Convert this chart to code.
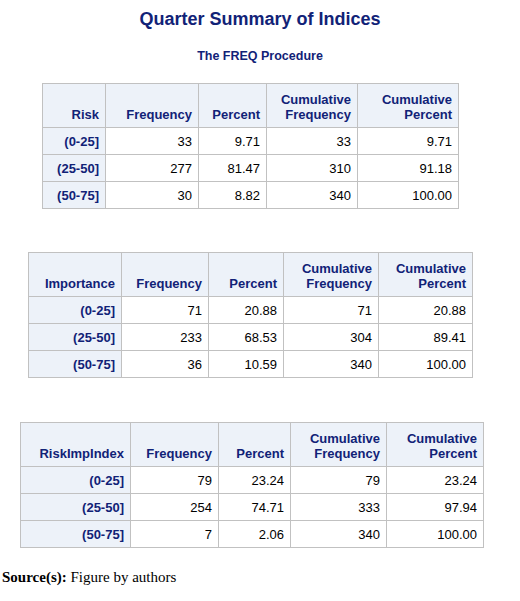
<!DOCTYPE html>
<html><head><meta charset="utf-8">
<script src="https://cdn.jsdelivr.net/npm/chart.js@4"></script>
<style>
body{margin:0;width:520px;height:601px;background:#fff;font-family:Arial,"Liberation Sans",sans-serif;position:relative;overflow:hidden}
.t{position:absolute;left:0;width:520px;text-align:center;color:#112277;font-weight:bold}
table{position:absolute;border-collapse:collapse;font-size:13px;table-layout:fixed}
td,th{border:1px solid #c1c1c1;padding:0 6px;text-align:right;white-space:nowrap}
th{background:#edf2f9;color:#112277;font-weight:bold;vertical-align:bottom;padding-bottom:5px;line-height:15px}
td{color:#000;height:26px}
td.r{background:#edf2f9;color:#112277;font-weight:bold}
table{border:1px solid #a8a8a8}
#src{position:absolute;left:2px;top:569px;font-family:"Liberation Serif","Times New Roman",serif;font-size:15px}
</style></head><body>
<div class="t" style="top:9px;font-size:18px">Quarter Summary of Indices</div>
<div class="t" style="top:49px;font-size:12.5px">The FREQ Procedure</div>
<div id="src"><b>Source(s):</b> Figure by authors</div>
<script>
const categories=["(0-25]","(25-50]","(50-75]"];
const headers=["Frequency","Percent","Cumulative<br>Frequency","Cumulative<br>Percent"];
const riskFreq=[33,277,30], riskPct=["9.71","81.47","8.82"], riskCumF=[33,310,340], riskCumP=["9.71","91.18","100.00"];
const impFreq=[71,233,36], impPct=["20.88","68.53","10.59"], impCumF=[71,304,340], impCumP=["20.88","89.41","100.00"];
const riFreq=[79,254,7], riPct=["23.24","74.71","2.06"], riCumF=[79,333,340], riCumP=["23.24","97.94","100.00"];
function make(name,f,p,cf,cp,left,top,cols,hh){
  const t=document.createElement('table');
  t.style.left=left+'px';t.style.top=top+'px';
  let h='<colgroup>'+cols.map(w=>`<col style="width:${w}px">`).join('')+'</colgroup>';
  h+=`<tr style="height:${hh}px"><th>${name}</th>`+headers.map(x=>`<th>${x}</th>`).join('')+'</tr>';
  categories.forEach((c,i)=>{h+=`<tr><td class="r">${c}</td><td>${f[i]}</td><td>${p[i]}</td><td>${cf[i]}</td><td>${cp[i]}</td></tr>`;});
  t.innerHTML=h;document.body.appendChild(t);
}
make("Risk",riskFreq,riskPct,riskCumF,riskCumP,42,83,[63,93,68,91,101],44);
make("Importance",impFreq,impPct,impCumF,impCumP,28,252,[93,87,75,95,94],44);
make("RiskImpIndex",riFreq,riPct,riCumF,riCumP,20,422,[110,88,72,96,97],44);
</script>
</body></html>
